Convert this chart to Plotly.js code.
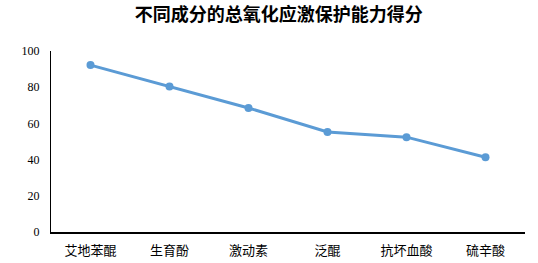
<!DOCTYPE html>
<html>
<head>
<meta charset="utf-8">
<script src="https://cdn.plot.ly/plotly-3.0.1.min.js"></script>
<style>html,body{margin:0;padding:0;background:#fff;}#chart{width:538px;height:263px;}</style>
</head>
<body>
<div id="chart"></div>
<script>
const categories = ["艾地苯醌", "生育酚", "激动素", "泛醌", "抗坏血酸", "硫辛酸"];
const scores = [92.2, 80.4, 68.5, 55.3, 52.4, 41.3];
const yTicks = [0, 20, 40, 60, 80, 100];

Plotly.newPlot("chart", [{
  type: "scatter",
  mode: "lines+markers",
  x: categories,
  y: scores,
  line: {color: "#5B9BD5", width: 3},
  marker: {color: "#5B9BD5", size: 8},
  hoverinfo: "none"
}], {
  width: 538, height: 263,
  margin: {l: 51, r: 13, t: 51, b: 31},
  paper_bgcolor: "#fff", plot_bgcolor: "#fff",
  showlegend: false,
  title: {
    text: "<b>不同成分的总氧化应激保护能力得分</b>",
    x: 0.518, xanchor: "center", y: 0.945, yanchor: "middle",
    font: {family: "Noto Sans CJK SC", size: 18, color: "#000"}
  },
  xaxis: {
    type: "category", range: [-0.5, categories.length - 0.5], autorange: false,
    showline: true, linecolor: "#000", linewidth: 1.5,
    showgrid: false, zeroline: false, ticks: "", ticklabelstandoff: 6,
    automargin: false,
    tickfont: {family: "Noto Sans CJK SC", size: 13, color: "#000"}
  },
  yaxis: {
    range: [0, 100], autorange: false, tickvals: yTicks, ticktext: yTicks.map(String),
    showline: true, linecolor: "#000", linewidth: 1,
    showgrid: false, zeroline: false, ticks: "", ticklabelstandoff: 8,
    tickfont: {family: "Liberation Serif", size: 12, color: "#000"}
  }
}, {displayModeBar: false, staticPlot: true});
</script>
</body>
</html>
